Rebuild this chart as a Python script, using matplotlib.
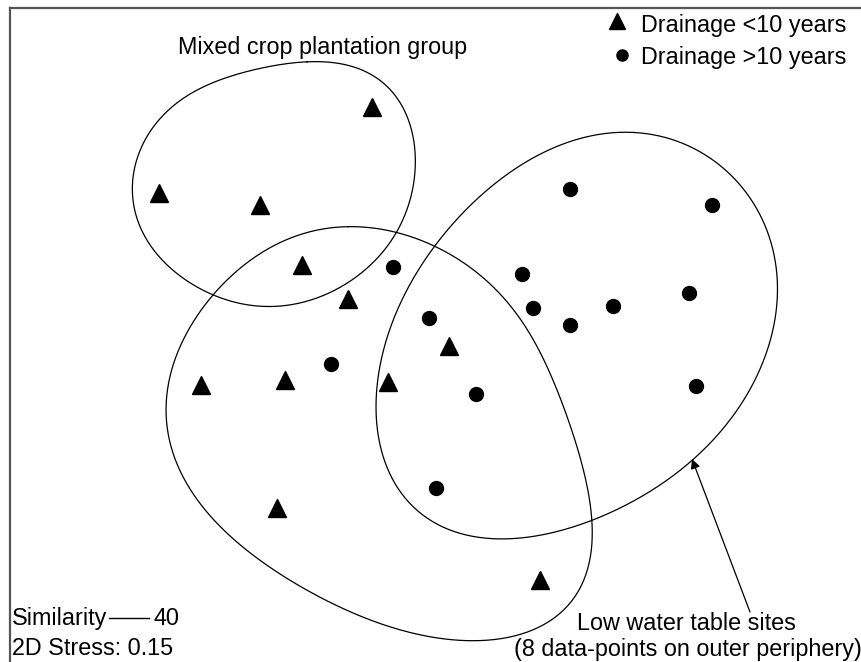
import numpy as np
import matplotlib
matplotlib.use("Agg")
import matplotlib.pyplot as plt

plt.rcParams['font.family'] = ['Liberation Sans', 'DejaVu Sans']

# ordination scores (plot units, y downwards)
tri_x = [372, 159, 260, 302, 348, 449, 201, 285, 388, 277, 540]
tri_y = [107, 193, 205, 265, 299, 346, 385, 380, 382, 508, 580]
dot_x = [570, 712, 393, 522, 533, 613, 570, 689, 429, 331, 476, 696, 436]
dot_y = [189, 205, 267, 274, 308, 306, 325, 293, 318, 364, 394, 386, 488]

# similarity contours (outline points, closed)
mixed_group = [(307, 62), (380, 80), (415, 150), (407, 207), (380, 257), (333, 290),
               (263, 307), (210, 293), (153, 250), (133, 193), (153, 127), (203, 87)]
left_group = [(350, 228), (443, 250), (527, 330), (570, 420), (588, 527), (577, 603),
              (460, 638), (360, 617), (260, 560), (193, 493), (165, 413), (187, 337),
              (243, 263)]
right_group = [(633, 133), (710, 157), (760, 213), (776, 287), (760, 370), (693, 460),
               (593, 520), (500, 537), (420, 517), (382, 453), (378, 403), (393, 320),
               (433, 247), (510, 173)]


def smooth_outline(pts, k=4, n=400):
    # least-squares Fourier fit of a closed outline
    p = np.asarray(pts, float)
    q = np.vstack([p, p[:1]])
    d = np.r_[0, np.cumsum(np.hypot(*np.diff(q, axis=0).T))]
    t = 2 * np.pi * d[:-1] / d[-1]

    def basis(tt):
        cols = [np.ones_like(tt)]
        for j in range(1, k + 1):
            cols += [np.cos(j * tt), np.sin(j * tt)]
        return np.column_stack(cols)

    coef, *_ = np.linalg.lstsq(basis(t), p, rcond=None)
    tf = np.linspace(0, 2 * np.pi, n)
    return basis(tf) @ coef


fig = plt.figure(figsize=(8.61, 6.62), dpi=100)
ax = fig.add_axes([10 / 861, 0, 851 / 861, 654 / 662])
ax.set_xlim(10, 861)
ax.set_ylim(662, 8)
ax.set_xticks([])
ax.set_yticks([])
for s in ['right', 'bottom']:
    ax.spines[s].set_visible(False)
for s in ['left', 'top']:
    ax.spines[s].set_color('#555555')
    ax.spines[s].set_linewidth(1.6)

for grp in [mixed_group, left_group, right_group]:
    c = smooth_outline(grp)
    ax.plot(c[:, 0], c[:, 1], color='black', lw=0.9)

ax.plot(tri_x, tri_y, linestyle='none', marker='^', ms=12.5, color='black')
ax.plot(dot_x, dot_y, linestyle='none', marker='o', ms=10, color='black')

fs = 16.8
# legend
ax.plot([617], [21], marker='^', ms=11, color='black', clip_on=False)
ax.text(641, 32, 'Drainage <10 years', fontsize=fs, va='baseline')
ax.plot([622], [55], marker='o', ms=8, color='black', clip_on=False)
ax.text(641, 64, 'Drainage >10 years', fontsize=fs, va='baseline')

ax.text(323, 54, 'Mixed crop plantation group', fontsize=fs, ha='center', va='baseline')

ax.annotate('', xy=(692, 459), xytext=(750, 612),
            arrowprops=dict(arrowstyle='-|>', color='black', lw=0.9,
                            mutation_scale=14, shrinkA=0, shrinkB=0))
ax.text(686, 630, 'Low water table sites', fontsize=fs, ha='center', va='baseline')
ax.text(688, 656, '(8 data-points on outer periphery)', fontsize=fs, ha='center', va='baseline')

ax.text(12, 625, 'Similarity', fontsize=fs, va='baseline')
ax.plot([109, 149], [618, 618], color='black', lw=1.0)
ax.text(153, 625, '40', fontsize=fs, va='baseline')
ax.text(12, 655, '2D Stress: 0.15', fontsize=fs, va='baseline')

fig.savefig('out.png', dpi=100)
